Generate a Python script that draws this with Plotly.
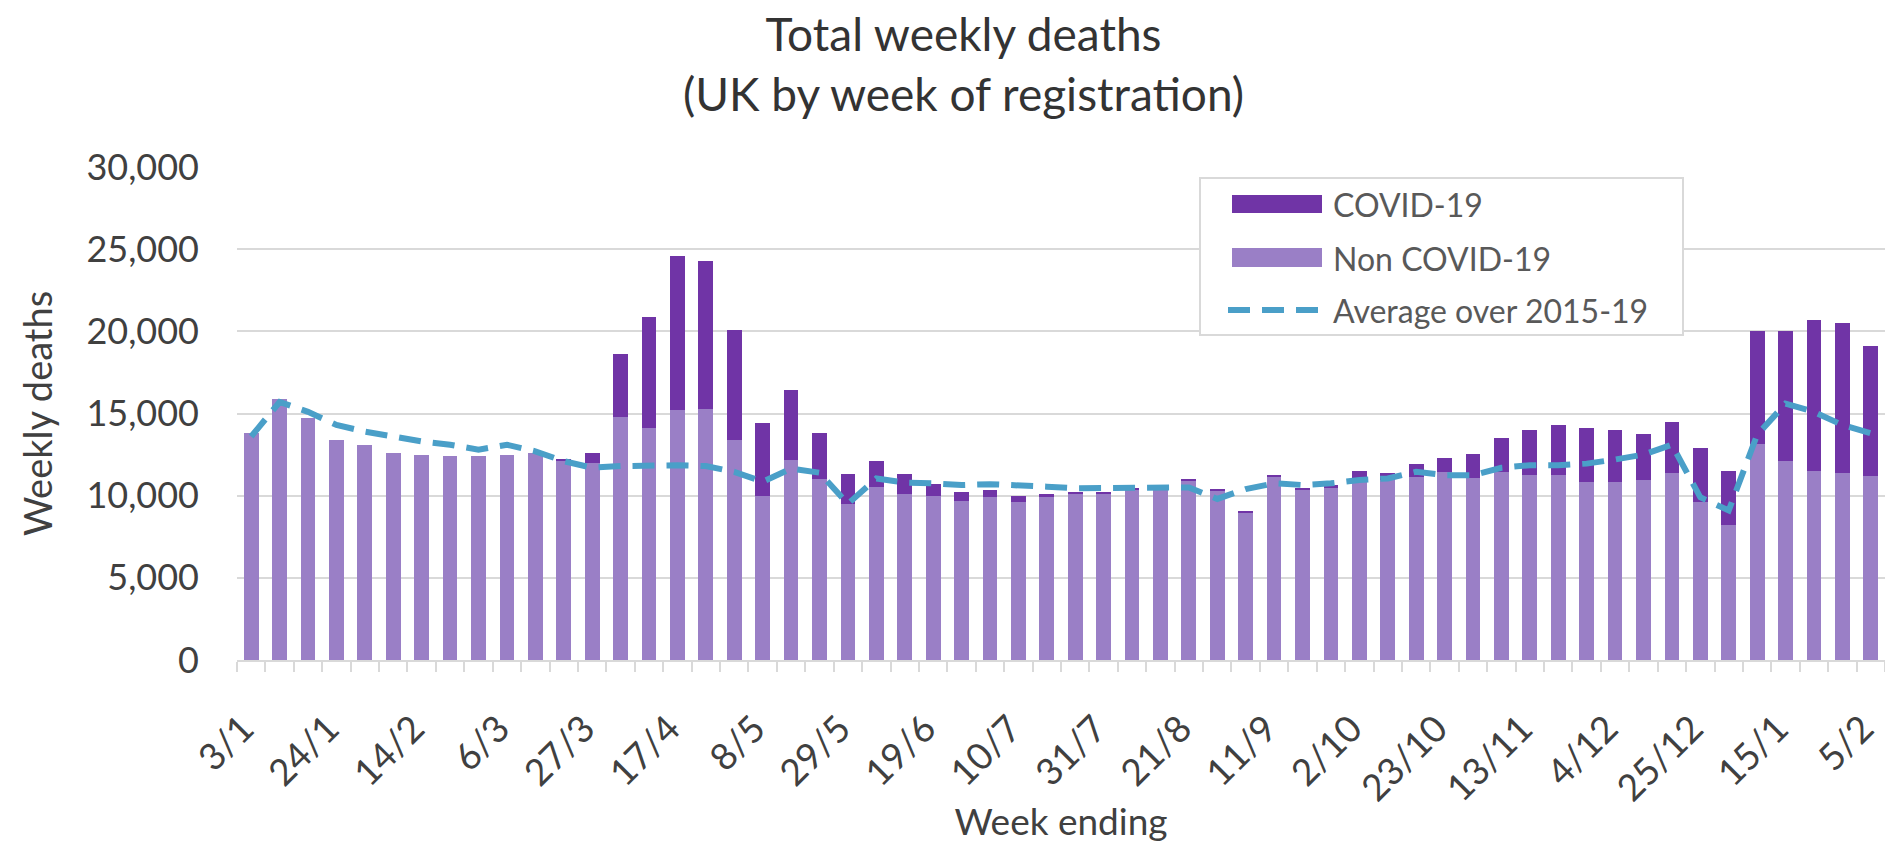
import plotly.graph_objects as go

# ---------------- data ----------------
weeks = ["3/1", "10/1", "17/1", "24/1", "31/1", "7/2", "14/2", "21/2", "28/2",
         "6/3", "13/3", "20/3", "27/3", "3/4", "10/4", "17/4", "24/4",
         "1/5", "8/5", "15/5", "22/5", "29/5", "5/6", "12/6", "19/6", "26/6",
         "3/7", "10/7", "17/7", "24/7", "31/7", "7/8", "14/8", "21/8", "28/8",
         "4/9", "11/9", "18/9", "25/9", "2/10", "9/10", "16/10", "23/10", "30/10",
         "6/11", "13/11", "20/11", "27/11", "4/12", "11/12", "18/12", "25/12",
         "1/1", "8/1", "15/1", "22/1", "29/1", "5/2"]

non_covid = [13800, 15900, 14700, 13400, 13100, 12600, 12500, 12400, 12400,
             12500, 12600, 12150, 12000, 14800, 14100, 15200, 15300,
             13400, 10000, 12200, 11000, 9500, 10500, 10100, 9950, 9700,
             9900, 9600, 9900, 10150, 10150, 10400, 10400, 10950, 10300,
             9000, 11150, 10350, 10450, 11100, 10950, 11150, 11450, 11100,
             11450, 11250, 11250, 10850, 10850, 10950, 11350, 9600,
             8200, 13150, 12100, 11500, 11400, 11200]

covid = [0, 0, 0, 0, 0, 0, 0, 0, 0,
         0, 0, 100, 600, 3800, 6800, 9400, 9000,
         6700, 4400, 4200, 2800, 1800, 1600, 1200, 750, 550,
         450, 350, 200, 100, 50, 50, 50, 50, 50,
         50, 50, 100, 200, 400, 450, 750, 850, 1450,
         2050, 2750, 3050, 3250, 3150, 2800, 3150, 3300,
         3300, 6850, 7900, 9200, 9100, 7900]

average_2015_19 = [13600, 15700, 15100, 14300, 13900, 13600, 13300, 13100, 12800,
                   13100, 12700, 12100, 11700, 11800, 11850, 11850, 11800,
                   11450, 10850, 11650, 11400, 9500, 11050, 10800, 10750, 10650,
                   10700, 10650, 10550, 10450, 10450, 10500, 10450, 10500, 9800,
                   10400, 10750, 10650, 10750, 10950, 11050, 11450, 11250, 11250,
                   11700, 11850, 11850, 11950, 12200, 12500, 13100, 9900,
                   9100, 13700, 15600, 15100, 14300, 13800]

y_ticks = [0, 5000, 10000, 15000, 20000, 25000, 30000]

# ---------------- styles ----------------
NC_COLOR = "#9a7fc6"
COVID_COLOR = "#7034a6"
LINE_COLOR = "#4a9fc8"
GRID = "#d9d9d9"
TXT = "#404040"
FONT = "Lato"

W, H = 1885, 843
L, R, T, B = 237, 0, 167, 183
PW = W - L - R
PH = H - T - B


def px(xp):
    return (xp - L) / PW


def py(yp):
    return (H - B - yp) / PH


x = list(range(len(weeks)))

fig = go.Figure()
fig.add_trace(go.Bar(x=x, y=non_covid, name="Non COVID-19",
                     marker=dict(color=NC_COLOR, line=dict(width=0)),
                     customdata=weeks, hovertemplate="%{customdata}: %{y:,}<extra>Non COVID-19</extra>"))
fig.add_trace(go.Bar(x=x, y=covid, name="COVID-19",
                     marker=dict(color=COVID_COLOR, line=dict(width=0)),
                     customdata=weeks, hovertemplate="%{customdata}: %{y:,}<extra>COVID-19</extra>"))
fig.add_trace(go.Scatter(x=x, y=average_2015_19, name="Average over 2015-19", mode="lines",
                         line=dict(color=LINE_COLOR, width=6, dash="22px,12px"),
                         customdata=weeks, hovertemplate="%{customdata}: %{y:,}<extra>Average</extra>"))

fig.update_layout(
    width=W, height=H,
    margin=dict(l=L, r=R, t=T, b=B, autoexpand=False),
    barmode="stack", bargap=0.48,
    plot_bgcolor="white", paper_bgcolor="white",
    showlegend=False,
    font=dict(family=FONT, color=TXT),
)

fig.update_xaxes(
    range=[-0.5, len(weeks) - 0.5],
    tickmode="array", tickvals=x[::3], ticktext=weeks[::3],
    tickangle=-45, tickfont=dict(family=FONT, size=37, color=TXT),
    ticks="", ticklabelstandoff=30, ticklabelshift=-8, ticklabeloverflow="allow",
    showline=True, linecolor=GRID, linewidth=2,
    showgrid=False, zeroline=False,
    minor=dict(ticks="outside", tickmode="linear", tick0=-0.5, dtick=1,
               ticklen=10, tickwidth=2, tickcolor=GRID, showgrid=False),
    title=dict(text="Week ending", font=dict(family=FONT, size=37, color=TXT), standoff=28),
)

fig.update_yaxes(
    range=[0, 30000], tickmode="array", tickvals=y_ticks,
    tickformat=",d", tickfont=dict(family=FONT, size=36, color=TXT),
    ticks="", ticklabelstandoff=37,
    showgrid=True, gridcolor=GRID, gridwidth=2,
    zeroline=False, showline=False,
    title=dict(text="Weekly deaths", font=dict(family=FONT, size=38, color=TXT), standoff=22),
)

# ---------------- chart title ----------------
annotations = [
    dict(text="Total weekly deaths<br>(UK by week of registration)",
         xref="paper", yref="paper", x=px(963), y=py(4),
         xanchor="center", yanchor="top", align="center", showarrow=False,
         font=dict(family=FONT, size=46, color="#333333")),
]

# ---------------- custom legend (paper coordinates) ----------------
shapes = [
    dict(type="rect", xref="paper", yref="paper",
         x0=px(1200), x1=px(1683), y0=py(335), y1=py(178),
         line=dict(color=GRID, width=2), fillcolor="white", layer="above"),
    dict(type="rect", xref="paper", yref="paper",
         x0=px(1232), x1=px(1322), y0=py(213), y1=py(195),
         line=dict(width=0), fillcolor=COVID_COLOR, layer="above"),
    dict(type="rect", xref="paper", yref="paper",
         x0=px(1232), x1=px(1322), y0=py(267), y1=py(248),
         line=dict(width=0), fillcolor=NC_COLOR, layer="above"),
    dict(type="line", xref="paper", yref="paper",
         x0=px(1228), x1=px(1324), y0=py(310), y1=py(310),
         line=dict(color=LINE_COLOR, width=6, dash="22px,12px"), layer="above"),
]
legend_items = [("COVID-19", 204), ("Non COVID-19", 258), ("Average over 2015-19", 310)]
annotations += [
    dict(text=txt, xref="paper", yref="paper", x=px(1331), y=py(yc),
         xanchor="left", yanchor="middle", showarrow=False,
         font=dict(family=FONT, size=32, color="#595959"))
    for txt, yc in legend_items
]
fig.update_layout(shapes=shapes, annotations=annotations)

fig.write_html("out.html")
